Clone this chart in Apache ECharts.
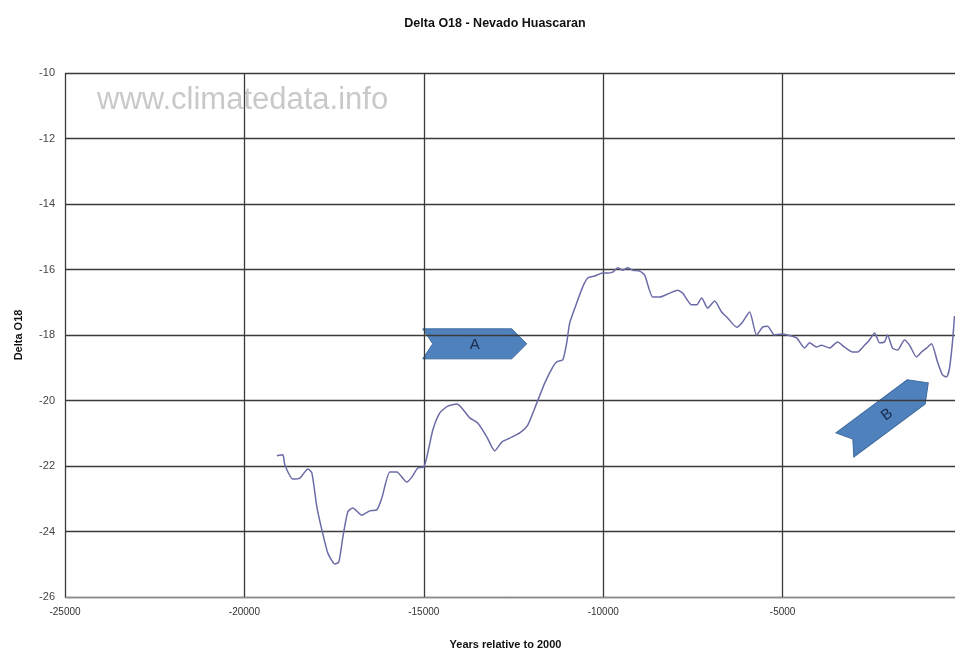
<!DOCTYPE html>
<html>
<head>
<meta charset="utf-8">
<script src="https://cdn.jsdelivr.net/npm/echarts@6/dist/echarts.min.js"></script>
<style>
html,body{margin:0;padding:0;background:#fff;}
#chart{width:955px;height:653px;}
</style>
</head>
<body>
<div id="chart"></div>
<script>
const years = [-19095,-18928,-18872,-18649,-18454,-18231,-18120,-17981,-17841,-17674,
-17479,-17368,-17256,-17117,-16978,-16727,-16504,-16309,-16170,-15947,
-15752,-15474,-15334,-15167,-15000,-14889,-14749,-14554,-14332,-14081,
-13942,-13719,-13496,-13245,-13023,-12827,-12605,-12326,-12103,-11852,
-11630,-11407,-11295,-11128,-11017,-10933,-10738,-10571,-10432,-10237,
-10014,-9903,-9735,-9596,-9457,-9318,-9178,-8983,-8844,-8621,
-8426,-8148,-7925,-7786,-7535,-7396,-7256,-7089,-6894,-6700,
-6532,-6281,-6114,-5920,-5724,-5557,-5418,-5223,-5028,-4861,
-4610,-4387,-4248,-4053,-3914,-3691,-3468,-3273,-3050,-2911,
-2716,-2577,-2437,-2298,-2159,-2075,-1936,-1797,-1602,-1463,
-1268,-1128,-989,-850,-683,-543,-432,-348,-265,-209];
const delta = [-21.69,-21.66,-21.97,-22.40,-22.37,-22.09,-22.21,-23.25,-23.95,-24.66,
-24.99,-24.93,-24.17,-23.40,-23.28,-23.50,-23.37,-23.34,-22.98,-22.18,
-22.18,-22.49,-22.34,-22.06,-22.03,-21.60,-20.90,-20.38,-20.17,-20.11,
-20.23,-20.53,-20.69,-21.11,-21.54,-21.27,-21.15,-20.99,-20.75,-20.08,
-19.47,-18.98,-18.82,-18.76,-18.24,-17.63,-17.02,-16.53,-16.26,-16.20,
-16.11,-16.11,-16.08,-15.95,-16.02,-15.95,-16.02,-16.05,-16.17,-16.84,
-16.84,-16.72,-16.63,-16.72,-17.08,-17.08,-16.87,-17.18,-16.96,-17.30,
-17.48,-17.76,-17.60,-17.30,-18.00,-17.76,-17.73,-18.00,-17.97,-18.00,
-18.09,-18.40,-18.24,-18.37,-18.31,-18.40,-18.21,-18.37,-18.52,-18.52,
-18.31,-18.15,-17.94,-18.24,-18.21,-18.00,-18.40,-18.46,-18.15,-18.31,
-18.67,-18.52,-18.40,-18.27,-18.82,-19.22,-19.28,-19.01,-18.21,-17.42];
const annotationLabels = ['A','B'];
const annotationYears = [-13580,-2103];
const annotationValues = [-18.27,-20.41];
const annotationAngles = [0, 0.64];

const chart = echarts.init(document.getElementById('chart'), null, {renderer:'canvas'});
const fontMain = 'Liberation Sans, Arial, sans-serif';
const option = {
  backgroundColor:'#ffffff',
  animation:false,
  title:{
    text:'Delta O18 - Nevado Huascaran',
    left:490, top:12, textAlign:'center',
    textStyle:{fontFamily:fontMain, fontSize:12.5, fontWeight:'bold', color:'#111'}
  },
  grid:{left:65, top:73, width:897, height:524, outerBoundsMode:'none', containLabel:false},
  xAxis:{
    type:'value', min:-25000, max:0, interval:5000,
    name:'Years relative to 2000', nameLocation:'middle', nameGap:42,
    nameTextStyle:{fontFamily:fontMain, fontSize:11, fontWeight:'bold', color:'#111', padding:[0,16,0,0]},
    axisLine:{show:true, onZero:false, lineStyle:{color:'#8a8a8a', width:1}},
    axisTick:{show:false},
    axisLabel:{fontFamily:fontMain, fontSize:10, color:'#333', margin:10, formatter:v=>String(v)},
    splitLine:{show:true, lineStyle:{color:'#3a3a3a', width:1.3}}
  },
  yAxis:{
    type:'value', min:-26, max:-10, interval:2,
    name:'Delta O18', nameLocation:'middle', nameGap:41, nameRotate:90,
    nameTextStyle:{fontFamily:fontMain, fontSize:11, fontWeight:'bold', color:'#111'},
    axisLine:{show:true, lineStyle:{color:'#8a8a8a', width:1}},
    axisTick:{show:false},
    axisLabel:{fontFamily:fontMain, fontSize:11, color:'#444', margin:10},
    splitLine:{show:true, lineStyle:{color:'#3a3a3a', width:1.3}}
  },
  series:[{
    type:'line', showSymbol:false, smooth:0.2,
    data: years.map((y,i)=>[y, delta[i]]),
    lineStyle:{color:'#6b6ba8', width:1.5},
    clip:true
  }],
  graphic:[{
    type:'text', left:97, top:85,
    style:{text:'www.climatedata.info', fontFamily:fontMain, fontSize:31, fill:'#c9c9c9'}
  }]
};
chart.setOption(option);

const arrowShape = [[-52,-15],[37,-15],[52,0],[37,15],[-52,15],[-42,0]];
const extra = annotationLabels.map((lab,i)=>{
  const p = chart.convertToPixel({gridIndex:0}, [annotationYears[i], annotationValues[i]]);
  return {
    type:'group', x:p[0], y:p[1], rotation:annotationAngles[i],
    children:[
      {type:'polygon', shape:{points:arrowShape},
       style:{fill:'#4f81bd', stroke:'#3d6a9e', lineWidth:1}},
      {type:'text', x:0, y:1,
       style:{text:lab, fontFamily:fontMain, fontSize:15, fill:'#1a2a4a',
              align:'center', verticalAlign:'middle'}}
    ]
  };
});
chart.setOption({graphic: option.graphic.concat(extra)});
</script>
</body>
</html>
